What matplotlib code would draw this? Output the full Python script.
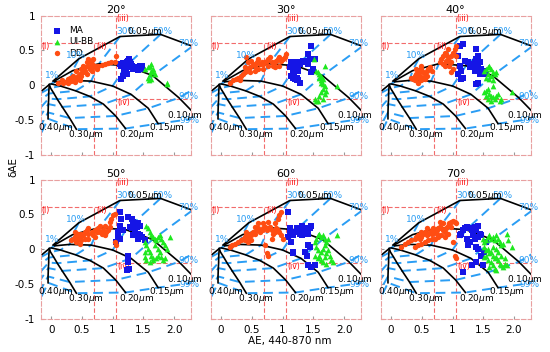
import numpy as np
import matplotlib
matplotlib.use("Agg")
import matplotlib.pyplot as plt

angles = ["20°", "30°", "40°", "50°", "60°", "70°"]

# Gobbi grid: fine-mode radius (rows) x fine-mode fraction (columns)
radii = ["0.05", "0.10", "0.15", "0.20", "0.30", "0.40", "0.50"]
fractions = ["1%", "10%", "30%", "50%", "70%", "90%", "99%"]
grid_ae = np.array([
    [0.03, 0.45, 1.12, 1.78, 2.30, 2.90, 3.20],
    [0.05, 0.35, 0.78, 1.22, 1.65, 2.08, 2.40],
    [0.06, 0.30, 0.65, 1.00, 1.30, 1.58, 1.74],
    [0.00, 0.15, 0.40, 0.63, 0.85, 1.05, 1.21],
    [-0.03, -0.01, 0.04, 0.10, 0.18, 0.30, 0.41],
    [-0.03, -0.035, -0.04, -0.04, -0.045, -0.05, -0.05],
    [-0.03, -0.25, -0.30, -0.30, -0.30, -0.28, -0.25],
])
grid_dae = np.array([
    [0.06, 0.38, 0.70, 0.73, 0.56, 0.25, 0.00],
    [0.06, 0.21, 0.31, 0.28, 0.14, -0.18, -0.47],
    [0.05, 0.07, 0.06, -0.01, -0.13, -0.33, -0.55],
    [0.02, -0.01, -0.08, -0.16, -0.27, -0.44, -0.62],
    [0.01, -0.04, -0.11, -0.20, -0.31, -0.47, -0.63],
    [0.01, -0.05, -0.12, -0.19, -0.27, -0.39, -0.48],
    [0.01, -0.15, -0.30, -0.45, -0.60, -0.75, -0.85],
])

# (AE, dAE) per class and angle
dd_20 = np.array([
    [0.20, 0.03], [0.23, 0.05], [0.28, 0.04], [0.30, 0.07], [0.33, 0.06], [0.36, 0.08], [0.39, 0.05],
    [0.27, 0.09], [0.33, 0.11], [0.40, 0.11], [0.43, 0.14], [0.47, 0.16], [0.44, 0.09], [0.49, 0.13],
    [0.52, 0.19], [0.55, 0.21], [0.48, 0.23], [0.55, 0.26], [0.60, 0.28], [0.58, 0.33], [0.60, 0.38],
    [0.65, 0.34], [0.67, 0.31], [0.63, 0.23], [0.68, 0.26], [0.71, 0.28], [0.74, 0.24], [0.76, 0.28],
    [0.82, 0.29], [0.87, 0.31], [0.93, 0.32], [0.98, 0.33], [1.04, 0.33], [1.06, 0.42], [0.68, 0.38],
    [0.52, 0.28], [0.41, 0.20], [0.36, 0.14], [0.30, 0.11], [0.58, 0.16], [0.66, 0.21], [0.47, 0.07],
    [0.11, 0.04], [0.17, 0.07]])
ma_20 = np.array([
    [1.12, 0.31], [1.14, 0.28], [1.17, 0.32], [1.20, 0.29], [1.23, 0.33], [1.25, 0.35], [1.28, 0.34],
    [1.31, 0.28], [1.24, 0.26], [1.21, 0.22], [1.19, 0.19], [1.17, 0.14], [1.14, 0.09], [1.23, 0.16],
    [1.28, 0.26], [1.33, 0.23], [1.42, 0.26], [1.44, 0.28], [1.47, 0.27], [1.42, 0.22], [1.46, 0.24],
    [1.26, 0.38], [1.30, 0.31]])
ui_20 = np.array([
    [1.53, 0.23], [1.58, 0.26], [1.60, 0.28], [1.63, 0.21], [1.66, 0.19], [1.60, 0.16], [1.58, 0.11],
    [1.59, 0.07], [1.62, 0.09], [1.66, 0.23], [1.63, 0.31], [1.88, 0.02], [1.89, 0.03], [1.69, 0.16]])

dd_30 = np.array([
    [0.14, 0.03], [0.20, 0.07], [0.25, 0.09], [0.28, 0.11], [0.33, 0.14], [0.36, 0.16], [0.39, 0.19],
    [0.41, 0.21], [0.44, 0.23], [0.47, 0.26], [0.39, 0.26], [0.44, 0.33], [0.41, 0.40], [0.49, 0.35],
    [0.52, 0.31], [0.55, 0.28], [0.58, 0.33], [0.60, 0.38], [0.63, 0.31], [0.66, 0.34], [0.68, 0.31],
    [0.71, 0.33], [0.74, 0.35], [0.76, 0.38], [0.79, 0.40], [0.82, 0.33], [0.85, 0.28], [0.87, 0.33],
    [0.90, 0.35], [0.93, 0.38], [0.95, 0.40], [0.98, 0.35], [1.01, 0.38], [1.04, 0.40], [1.06, 0.45],
    [0.68, 0.23], [0.60, 0.23], [0.55, 0.21], [0.47, 0.19], [0.30, 0.07], [0.76, 0.28], [0.87, 0.26],
    [0.95, 0.28]])
ma_30 = np.array([
    [1.14, 0.33], [1.17, 0.28], [1.20, 0.31], [1.23, 0.33], [1.25, 0.28], [1.28, 0.31], [1.31, 0.33],
    [1.33, 0.35], [1.36, 0.33], [1.39, 0.35], [1.42, 0.31], [1.44, 0.38], [1.47, 0.57], [1.42, 0.45],
    [1.52, 0.38], [1.50, 0.23], [1.14, 0.14], [1.17, 0.11], [1.20, 0.09], [1.23, 0.07], [1.25, 0.07],
    [1.28, 0.04], [1.24, 0.10], [1.19, 0.16], [1.17, 0.19], [1.47, 0.19], [1.25, 0.21], [1.12, 0.26]])
ui_30 = np.array([
    [1.51, 0.38], [1.55, 0.21], [1.58, 0.19], [1.60, 0.16], [1.63, 0.14], [1.66, 0.09], [1.63, 0.04],
    [1.66, 0.02], [1.69, -0.01], [1.66, -0.05], [1.63, -0.10], [1.60, -0.15], [1.58, -0.22],
    [1.66, -0.20], [1.69, -0.12], [1.71, -0.08], [1.88, -0.01], [1.69, 0.28], [1.52, -0.20],
    [1.55, -0.22], [1.63, 0.07], [1.60, 0.11]])

dd_40 = np.array([
    [0.33, 0.11], [0.36, 0.09], [0.39, 0.14], [0.41, 0.16], [0.43, 0.11], [0.44, 0.19], [0.47, 0.21],
    [0.49, 0.23], [0.52, 0.19], [0.55, 0.16], [0.58, 0.21], [0.60, 0.23], [0.63, 0.26], [0.66, 0.21],
    [0.47, 0.14], [0.52, 0.11], [0.58, 0.14], [0.39, 0.07], [0.44, 0.04], [0.49, 0.07], [0.55, 0.09],
    [0.41, 0.23], [0.49, 0.28], [0.79, 0.33], [0.82, 0.38], [0.85, 0.42], [0.87, 0.47], [0.90, 0.45],
    [0.93, 0.40], [0.95, 0.35], [0.98, 0.33], [0.95, 0.28], [1.01, 0.23], [0.98, 0.19], [0.87, 0.28],
    [0.85, 0.31], [1.01, 0.47], [1.04, 0.52], [1.06, 0.57], [0.93, 0.52], [0.98, 0.42], [0.90, 0.35],
    [1.06, 0.42]])
ma_40 = np.array([
    [1.12, 0.57], [1.17, 0.59], [1.09, 0.42], [1.12, 0.28], [1.14, 0.21], [1.09, 0.16], [1.17, 0.11],
    [1.14, 0.09], [1.25, 0.33], [1.31, 0.31], [1.33, 0.28], [1.36, 0.33], [1.39, 0.38], [1.42, 0.42],
    [1.39, 0.52], [1.44, 0.33], [1.47, 0.23], [1.50, 0.19], [1.42, 0.26], [1.44, 0.16], [1.52, 0.21],
    [1.55, 0.16], [1.39, 0.02], [1.42, 0.04], [1.36, 0.21], [1.28, 0.26], [1.20, 0.35]])
ui_40 = np.array([
    [1.52, 0.21], [1.55, 0.23], [1.58, 0.26], [1.60, 0.28], [1.63, 0.23], [1.66, 0.19], [1.69, 0.16],
    [1.63, 0.14], [1.58, 0.16], [1.55, 0.11], [1.60, 0.09], [1.66, 0.07], [1.71, 0.19], [1.52, -0.10],
    [1.55, -0.08], [1.58, -0.05], [1.60, -0.12], [1.63, -0.15], [1.66, -0.17], [1.69, -0.20],
    [1.71, -0.15], [1.74, -0.12], [1.77, -0.22], [1.63, -0.22], [1.58, -0.20], [1.55, -0.15],
    [1.79, -0.20], [1.96, -0.10], [1.66, -0.01]])

dd_50 = np.array([
    [0.33, 0.13], [0.36, 0.15], [0.39, 0.18], [0.41, 0.20], [0.44, 0.15], [0.47, 0.18], [0.49, 0.22],
    [0.52, 0.20], [0.55, 0.25], [0.58, 0.27], [0.60, 0.30], [0.49, 0.13], [0.55, 0.15], [0.41, 0.11],
    [0.47, 0.08], [0.60, 0.22], [0.66, 0.25], [0.68, 0.20], [0.71, 0.27], [0.74, 0.25], [0.76, 0.30],
    [0.79, 0.25], [0.82, 0.22], [0.85, 0.27], [0.87, 0.20], [0.90, 0.25], [0.93, 0.27], [0.95, 0.32],
    [0.95, 0.39], [0.98, 0.44], [1.01, 0.49], [1.04, 0.51], [0.87, 0.34], [0.79, 0.34], [0.71, 0.18],
    [0.60, 0.15], [1.04, 0.11], [1.06, 0.06], [0.44, 0.22], [0.39, 0.25]])
ma_50 = np.array([
    [1.12, 0.53], [1.14, 0.44], [1.12, 0.34], [1.09, 0.25], [1.09, 0.18], [1.06, 0.11], [1.12, 0.15],
    [1.25, 0.46], [1.31, 0.44], [1.33, 0.39], [1.36, 0.34], [1.39, 0.32], [1.42, 0.37], [1.44, 0.34],
    [1.31, 0.30], [1.36, 0.25], [1.42, 0.22], [1.44, 0.20], [1.42, 0.15], [1.47, 0.18], [1.52, 0.13],
    [1.28, 0.32], [1.25, -0.09], [1.25, -0.18], [1.24, -0.30], [1.26, -0.28], [1.33, 0.20],
    [1.17, 0.27]])
ui_50 = np.array([
    [1.55, 0.34], [1.58, 0.30], [1.60, 0.25], [1.63, 0.20], [1.66, 0.18], [1.69, 0.15], [1.71, 0.13],
    [1.74, 0.18], [1.77, 0.20], [1.79, 0.15], [1.82, 0.11], [1.85, 0.06], [1.88, 0.01], [1.93, 0.18],
    [1.52, 0.11], [1.55, 0.06], [1.58, 0.01], [1.60, -0.04], [1.63, -0.09], [1.66, -0.13],
    [1.52, -0.11], [1.55, -0.16], [1.60, -0.18], [1.66, -0.16], [1.71, -0.13], [1.74, -0.09],
    [1.77, -0.04], [1.79, -0.11], [1.82, -0.16], [1.85, -0.13], [1.69, 0.06], [1.74, 0.01],
    [1.52, -0.04]])

dd_60 = np.array([
    [0.14, 0.03], [0.17, 0.06], [0.22, 0.08], [0.28, 0.11], [0.33, 0.13], [0.36, 0.15], [0.39, 0.18],
    [0.41, 0.20], [0.44, 0.18], [0.47, 0.22], [0.49, 0.20], [0.52, 0.25], [0.55, 0.22], [0.58, 0.27],
    [0.60, 0.30], [0.63, 0.25], [0.66, 0.27], [0.68, 0.30], [0.71, 0.32], [0.74, 0.27], [0.76, 0.30],
    [0.79, 0.32], [0.82, 0.27], [0.85, 0.22], [0.87, 0.25], [0.90, 0.30], [0.93, 0.27], [0.95, 0.25],
    [0.98, 0.20], [1.01, 0.15], [0.93, 0.44], [0.95, 0.49], [0.98, 0.53], [0.87, 0.37], [0.76, 0.39],
    [0.68, 0.37], [0.60, 0.37], [0.55, 0.32], [0.39, 0.13], [0.44, 0.11], [0.49, 0.13], [0.41, 0.25],
    [0.74, -0.06], [0.76, -0.09], [0.71, 0.06], [0.82, 0.15]])
ma_60 = np.array([
    [1.09, 0.53], [1.12, 0.25], [1.09, 0.18], [1.12, 0.30], [1.14, 0.22], [1.17, 0.20], [1.20, 0.25],
    [1.23, 0.30], [1.25, 0.27], [1.28, 0.22], [1.31, 0.20], [1.33, 0.25], [1.36, 0.30], [1.39, 0.27],
    [1.42, 0.22], [1.44, 0.30], [1.47, 0.34], [1.42, 0.06], [1.44, 0.03], [1.17, -0.04], [1.17, -0.06],
    [1.36, -0.04], [1.39, -0.09], [1.42, -0.23], [1.47, -0.25], [1.52, -0.23], [1.14, 0.11],
    [1.31, 0.34]])
ui_60 = np.array([
    [1.52, 0.11], [1.55, 0.15], [1.58, 0.20], [1.60, 0.22], [1.63, 0.18], [1.66, 0.20], [1.69, 0.15],
    [1.71, 0.11], [1.69, 0.06], [1.66, 0.01], [1.63, -0.04], [1.60, -0.09], [1.58, -0.13],
    [1.63, -0.16], [1.69, -0.11], [1.71, -0.06], [1.74, -0.01], [1.77, -0.09], [1.79, -0.16],
    [1.82, -0.18], [1.88, 0.20], [1.74, 0.15], [1.55, 0.03], [1.58, -0.01], [1.66, -0.18],
    [1.71, -0.21], [1.52, -0.09]])

dd_70 = np.array([
    [0.17, 0.03], [0.22, 0.08], [0.28, 0.11], [0.33, 0.13], [0.39, 0.15], [0.41, 0.18], [0.44, 0.20],
    [0.47, 0.15], [0.49, 0.18], [0.52, 0.22], [0.55, 0.25], [0.58, 0.20], [0.60, 0.22], [0.63, 0.25],
    [0.66, 0.27], [0.68, 0.30], [0.71, 0.25], [0.74, 0.27], [0.76, 0.30], [0.79, 0.32], [0.82, 0.30],
    [0.85, 0.27], [0.87, 0.25], [0.90, 0.30], [0.93, 0.34], [0.95, 0.37], [0.98, 0.39], [1.01, 0.41],
    [1.04, 0.39], [1.06, 0.37], [0.98, 0.32], [0.93, 0.22], [0.87, 0.18], [0.82, 0.20], [0.76, 0.18],
    [0.71, 0.15], [0.66, 0.15], [0.60, 0.13], [0.55, 0.11], [0.49, 0.08], [0.44, 0.06], [0.39, 0.03],
    [1.04, -0.09], [1.06, -0.13], [1.01, 0.11], [0.66, 0.22], [0.74, 0.22], [0.58, 0.30], [0.49, 0.25],
    [0.85, 0.37], [0.79, 0.39]])
ma_70 = np.array([
    [1.12, 0.20], [1.17, 0.27], [1.20, 0.30], [1.23, 0.32], [1.28, 0.30], [1.31, 0.27], [1.33, 0.30],
    [1.36, 0.32], [1.39, 0.27], [1.42, 0.34], [1.44, 0.22], [1.47, 0.20], [1.42, 0.18], [1.36, 0.15],
    [1.28, 0.11], [1.25, 0.06], [1.23, 0.15], [1.39, 0.03], [1.42, 0.01], [1.47, -0.09], [1.52, -0.04],
    [1.39, -0.18], [1.31, -0.23], [1.17, -0.32], [1.50, -0.23], [1.33, 0.20], [1.14, 0.22],
    [1.55, 0.11]])
ui_70 = np.array([
    [1.50, 0.15], [1.52, 0.11], [1.55, 0.13], [1.58, 0.18], [1.60, 0.20], [1.63, 0.15], [1.66, 0.18],
    [1.69, 0.13], [1.71, 0.20], [1.74, 0.15], [1.77, 0.11], [1.79, 0.06], [1.82, 0.08], [1.88, 0.22],
    [1.96, 0.03], [1.90, 0.13], [1.52, 0.03], [1.55, -0.01], [1.58, 0.01], [1.60, -0.06],
    [1.63, -0.04], [1.66, -0.09], [1.69, -0.13], [1.71, -0.11], [1.74, -0.16], [1.77, -0.21],
    [1.79, -0.23], [1.82, -0.25], [1.85, -0.21], [1.58, -0.16], [1.63, -0.18], [1.66, -0.23],
    [1.69, -0.28], [1.71, -0.30], [1.60, -0.25], [1.52, -0.11], [1.55, -0.09], [1.74, -0.04],
    [1.79, -0.09], [1.85, -0.13], [1.88, -0.23], [1.66, 0.03], [1.71, 0.01]])

ma_sets = [ma_20, ma_30, ma_40, ma_50, ma_60, ma_70]
ui_sets = [ui_20, ui_30, ui_40, ui_50, ui_60, ui_70]
dd_sets = [dd_20, dd_30, dd_40, dd_50, dd_60, dd_70]

xticks = [0, 0.5, 1, 1.5, 2.0]
xticklabels = ["0", "0.5", "1", "1.5", "2.0"]
yticks = [-1, -0.5, 0, 0.5, 1]
yticklabels = ["-1", "-0.5", "0", "0.5", "1"]

red = "#f26b6b"
sky = "#2a9df4"
xmin, xmax = -0.17, 2.27

fig = plt.figure(figsize=(5.5, 3.52), dpi=100)
lefts = [0.074, 0.383, 0.692]
bottoms = [0.5597, 0.0938]
w, h = 0.2727, 0.396

for i, ang in enumerate(angles):
    row, col = divmod(i, 3)
    ax = fig.add_axes([lefts[col], bottoms[row], w, h])
    ax.set_xlim(xmin, xmax)
    ax.set_ylim(-1, 1)

    # region boundaries
    ax.plot([0.7, 0.7], [-1, 0.6], color=red, lw=0.8, dashes=(4, 2))
    ax.plot([1.05, 1.05], [-1, 1], color=red, lw=0.8, dashes=(4, 2))
    ax.plot([xmin, 1.05], [0.6, 0.6], color=red, lw=0.8, dashes=(4, 2))
    ax.plot([1.05, xmax], [-0.2, -0.2], color=red, lw=0.8, dashes=(4, 2))
    for txt, xx, yy in [("(i)", -0.09, 0.55), ("(ii)", 0.82, 0.55),
                        ("(iii)", 1.16, 0.96), ("(iv)", 1.18, -0.24)]:
        ax.text(xx, yy, txt, color="red", fontsize=5.5, ha="center", va="center")

    # grid
    for j in range(grid_ae.shape[1]):
        ax.plot(grid_ae[:, j], grid_dae[:, j], color=sky, lw=1.4, dashes=(5, 3))
    for k in range(grid_ae.shape[0]):
        ax.plot(grid_ae[k], grid_dae[k], color="black", lw=1.2)

    ax.scatter(ma_sets[i][:, 0], ma_sets[i][:, 1], marker="s", s=13, color="#1515e6",
               linewidths=0, label="MA", zorder=5)
    ax.scatter(ui_sets[i][:, 0], ui_sets[i][:, 1], marker="^", s=17, color="#1ee81e",
               linewidths=0, label="UI-BB", zorder=5)
    ax.scatter(dd_sets[i][:, 0], dd_sets[i][:, 1], marker="o", s=15, color="#ff4d12",
               linewidths=0, label="DD", zorder=5)

    # grid labels
    for txt, xx, yy in [("1%", 0.01, 0.14), ("10%", 0.40, 0.43), ("30%", 1.22, 0.77),
                        ("50%", 1.81, 0.77), ("70%", 2.23, 0.60), ("90%", 2.23, -0.16),
                        ("99%", 2.25, -0.50)]:
        ax.text(xx, yy, txt, color=sky, fontsize=6.5, ha="center", va="center", zorder=6)
    for txt, xx, yy in [("0.05", 1.53, 0.77), ("0.10", 2.18, -0.43), ("0.15", 1.89, -0.60),
                        ("0.20", 1.39, -0.70), ("0.30", 0.56, -0.70), ("0.40", 0.08, -0.60)]:
        ax.text(xx, yy, txt + r"$\mu$m", color="black", fontsize=6.5, ha="center",
                va="center", zorder=6)

    ax.set_title(ang, fontsize=8, pad=2)
    ax.set_xticks(xticks)
    ax.set_yticks(yticks)
    if row == 1:
        ax.set_xticklabels(xticklabels, fontsize=7.5)
    else:
        ax.set_xticklabels([])
    if col == 0:
        ax.set_yticklabels(yticklabels, fontsize=7.5)
    else:
        ax.set_yticklabels([])
    ax.tick_params(length=2, direction="in", color="#999999", pad=4)
    for sp in ax.spines.values():
        sp.set_color("#e8a0a0")
        sp.set_linewidth(0.8)
        sp.set_linestyle((0, (4, 2)))

    if i == 0:
        ax.legend(loc="upper left", bbox_to_anchor=(0.03, 0.97), frameon=False, fontsize=6.5,
                  handletextpad=0.8, labelspacing=0.25, handlelength=1.2, borderpad=0.2)

fig.text(13 / 550, 1 - 167 / 352, "δAE", rotation=90, fontsize=7.5, ha="center", va="center")
fig.text(290 / 550, 1 - 341 / 352, "AE, 440-870 nm", fontsize=7.5, ha="center", va="center")

fig.savefig("out.png", dpi=100)
